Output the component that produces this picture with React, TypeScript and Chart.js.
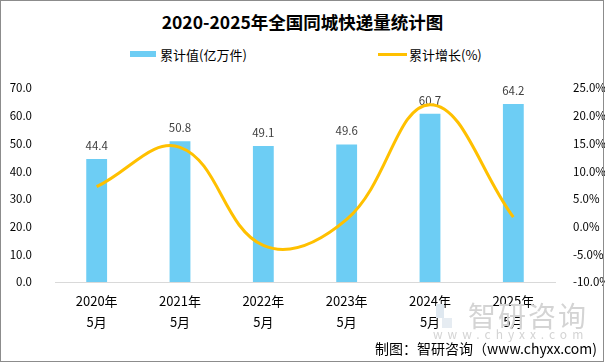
import React, { useEffect, useRef } from "react";
import { Chart, registerables } from "chart.js";

Chart.register(...registerables);

const years = ["2020年", "2021年", "2022年", "2023年", "2024年", "2025年"];
const monthLabel = "5月";
const cumulativeValues = [44.4, 50.8, 49.1, 49.6, 60.7, 64.2];
const growthRates = [7.2, 14.3, -3.4, 1.3, 22.0, 1.7];
const leftTicks = [0, 70, 10];
const rightTicks = [-10, 25, 5];

const FONT = "'Noto Sans CJK SC', 'Liberation Sans', sans-serif";
const BAR_COLOR = "#6dcdf4";
const LINE_COLOR = "#ffc000";

const barLabelPlugin = {
  id: "barLabels",
  afterDatasetDraw(chart: any, args: any) {
    if (args.index !== 0) return;
    const ctx = chart.ctx;
    const meta = chart.getDatasetMeta(0);
    ctx.save();
    ctx.font = `11.5px ${FONT}`;
    ctx.fillStyle = "#404040";
    ctx.textAlign = "center";
    ctx.textBaseline = "middle";
    meta.data.forEach((bar: any, i: number) => {
      ctx.fillText(cumulativeValues[i].toFixed(1), bar.x, bar.y - 13.5);
    });
    ctx.restore();
  },
};

export default function App() {
  const canvasRef = useRef<HTMLCanvasElement>(null);

  useEffect(() => {
    if (!canvasRef.current) return;
    const chart = new Chart(canvasRef.current, {
      type: "bar",
      data: {
        labels: years.map((y) => [y, monthLabel]),
        datasets: [
          {
            type: "bar",
            label: "累计值(亿万件)",
            data: cumulativeValues,
            backgroundColor: BAR_COLOR,
            yAxisID: "y",
            barPercentage: 0.5,
            categoryPercentage: 0.5,
            order: 1,
          },
          {
            type: "line",
            label: "累计增长(%)",
            data: growthRates,
            borderColor: LINE_COLOR,
            backgroundColor: LINE_COLOR,
            borderWidth: 3,
            pointRadius: 0,
            tension: 0.4,
            yAxisID: "y1",
            order: 0,
          } as any,
        ],
      },
      options: {
        animation: false,
        responsive: true,
        maintainAspectRatio: false,
        layout: { padding: { left: 0, right: 0, top: 88, bottom: 0 } },
        plugins: {
          legend: { display: false },
          title: { display: false },
          tooltip: { enabled: false },
        },
        scales: {
          x: {
            grid: { display: false },
            border: { display: true, color: "#d9d9d9", width: 1 },
            ticks: {
              color: "#000",
              font: { family: FONT, size: 13, lineHeight: 1.58 },
              padding: 1,
              maxRotation: 0,
              autoSkip: false,
            },
            afterFit(scale: any) {
              scale.height = 81;
            },
          },
          y: {
            position: "left",
            min: leftTicks[0],
            max: leftTicks[1],
            grid: { display: false },
            border: { display: false },
            ticks: {
              stepSize: leftTicks[2],
              color: "#000",
              font: { family: FONT, size: 11.5 },
              padding: 15,
              callback: (v: any) => Number(v).toFixed(1),
            },
            afterFit(scale: any) {
              scale.width = 55;
            },
          },
          y1: {
            position: "right",
            min: rightTicks[0],
            max: rightTicks[1],
            grid: { display: false },
            border: { display: false },
            ticks: {
              stepSize: rightTicks[2],
              color: "#000",
              font: { family: FONT, size: 11.5 },
              padding: 10,
              callback: (v: any) => Number(v).toFixed(1) + "%",
            },
            afterFit(scale: any) {
              scale.width = 50;
            },
          },
        },
      },
      plugins: [barLabelPlugin],
    });
    return () => chart.destroy();
  }, []);

  return (
    <div
      style={{
        position: "absolute",
        left: 0,
        top: 0,
        width: 605,
        height: 363,
        background: "#fff",
        fontFamily: FONT,
        overflow: "hidden",
      }}
    >
      <div
        style={{
          position: "absolute",
          left: 0,
          top: 10,
          width: 605,
          textAlign: "center",
          fontSize: 17.5,
          fontWeight: 700,
          color: "#000",
          lineHeight: "24px",
        }}
      >
        2020-2025年全国同城快递量统计图
      </div>
      <div
        style={{
          position: "absolute",
          left: 130,
          top: 45,
          height: 18,
          display: "flex",
          alignItems: "center",
          fontSize: 13,
          color: "#000",
        }}
      >
        <span style={{ display: "inline-block", width: 26, height: 6, background: BAR_COLOR, marginRight: 4 }} />
        累计值(亿万件)
      </div>
      <div
        style={{
          position: "absolute",
          left: 378,
          top: 45,
          height: 18,
          display: "flex",
          alignItems: "center",
          fontSize: 13,
          color: "#000",
        }}
      >
        <span style={{ display: "inline-block", width: 29, height: 3, background: LINE_COLOR, marginRight: 2 }} />
        累计增长(%)
      </div>
      <div style={{ position: "absolute", left: 0, top: 0, width: 605, height: 363 }}>
        <canvas ref={canvasRef} />
      </div>
      <div
        style={{
          position: "absolute",
          left: 436,
          top: 304,
          width: 8,
          height: 14,
          background: "#dfe8f0",
          pointerEvents: "none",
        }}
      />
      <div
        style={{
          position: "absolute",
          left: 442,
          top: 318,
          width: 10,
          height: 10,
          background: "#e6ecf2",
          pointerEvents: "none",
        }}
      />
      <div
        style={{
          position: "absolute",
          left: 468,
          top: 299,
          fontSize: 28,
          color: "#d4d4d4",
          letterSpacing: 2,
          lineHeight: "32px",
          pointerEvents: "none",
        }}
      >
        智研咨询
      </div>
      <div
        style={{
          position: "absolute",
          left: 433,
          top: 327,
          fontSize: 12,
          color: "#d4d4d4",
          letterSpacing: 5,
          lineHeight: "14px",
          pointerEvents: "none",
        }}
      >
        www.chyxx.com
      </div>
      <div
        style={{
          position: "absolute",
          right: 8,
          top: 339,
          fontSize: 14,
          color: "#000",
          lineHeight: "18px",
          whiteSpace: "nowrap",
        }}
      >
        制图：智研咨询（www.chyxx.com)
      </div>
      <div
        style={{
          position: "absolute",
          left: 0,
          top: 0,
          width: 604,
          height: 362,
          boxSizing: "border-box",
          border: "1px solid #8c8c8c",
          pointerEvents: "none",
        }}
      />
    </div>
  );
}
